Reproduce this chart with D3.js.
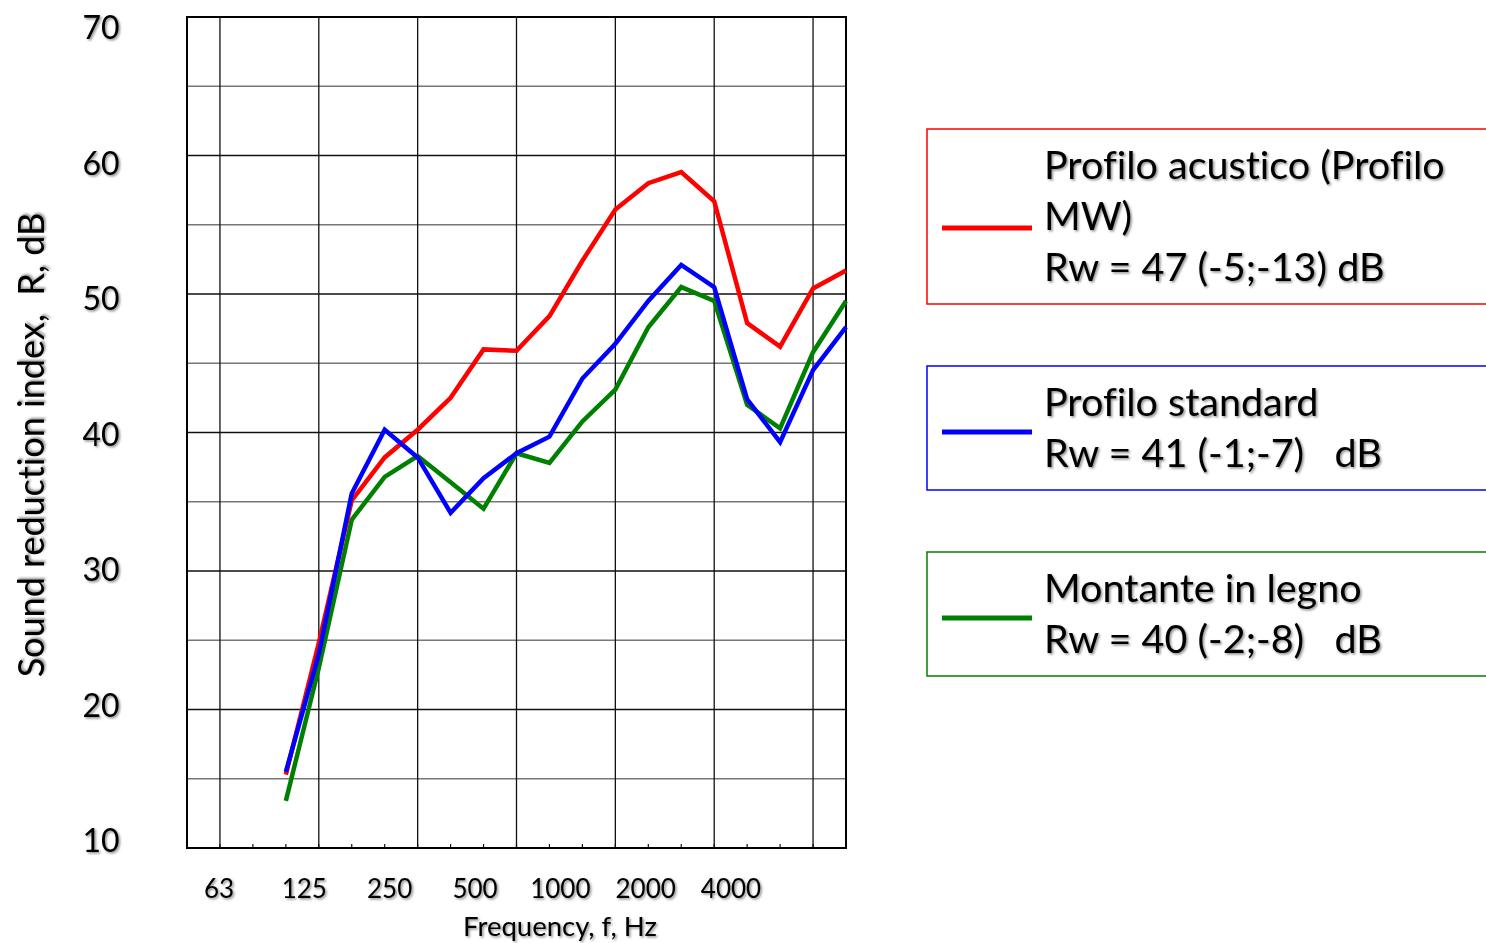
<!DOCTYPE html>
<html>
<head>
<meta charset="utf-8">
<script src="https://cdn.jsdelivr.net/npm/d3@7"></script>
<style>
  html, body { margin: 0; padding: 0; background: #fff; }
  text { font-family: Lato, "Open Sans", sans-serif; fill: #000; white-space: pre; font-variant-ligatures: none; }
</style>
</head>
<body>
<svg id="chart" width="1486" height="943"></svg>
<script>
// third-octave bands on the x axis
var bands = ["50", "63", "80", "100", "125", "160", "200", "250", "315", "400",
             "500", "630", "800", "1000", "1250", "1600", "2000", "2500", "3150", "4000", "5000"];
var dataBands = bands.slice(3);
var octaveBands = ["63", "125", "250", "500", "1000", "2000", "4000"];
var xTickLabels = ["63", "125", "250", "500", "1000", "2000", "4000"];
var yTickLabels = [70, 60, 50, 40, 30, 20, 10];

var redValues   = [15.3, 24.8, 35.1, 38.2, 40.2, 42.5, 46.0, 45.9, 48.4, 52.4, 56.1, 58.0, 58.8, 56.7, 47.9, 46.2, 50.4, 51.7];
var blueValues  = [15.5, 24.0, 35.6, 40.2, 38.2, 34.2, 36.7, 38.5, 39.7, 43.9, 46.4, 49.5, 52.1, 50.5, 42.4, 39.3, 44.5, 47.6];
var greenValues = [13.4, 23.0, 33.7, 36.8, 38.3, 36.4, 34.5, 38.5, 37.8, 40.8, 43.1, 47.6, 50.5, 49.5, 42.0, 40.3, 45.8, 49.5];

var seriesColors = ["#ff0000", "#0000ff", "#008000"];
var legendLines = [
    ["Profilo acustico (Profilo", "MW)", "Rw = 47 (-5;-13) dB"],
    ["Profilo standard", "Rw = 41 (-1;-7)   dB"],
    ["Montante in legno", "Rw = 40 (-2;-8)   dB"]
];

function drawChart() {
    var svg = d3.select("#chart");

    var plotLeft = 187, plotRight = 846, plotTop = 17, plotBottom = 848;

    var x = d3.scalePoint().domain(bands).range([plotLeft, plotRight]);
    var y = d3.scaleLinear().domain([10, 70]).range([plotBottom, plotTop]);

    // labels in the original sit a bit off the grid
    var xLabel = d3.scalePoint().domain(xTickLabels).range([219, 731]);
    var yLabel = d3.scaleLinear().domain([70, 10]).range([28, 841]);

    var shadow = svg.append("defs")
        .append("filter")
        .attr("id", "shadow")
        .attr("x", "-10%").attr("y", "-20%")
        .attr("width", "130%").attr("height", "150%");
    shadow.append("feDropShadow")
        .attr("dx", 1.5).attr("dy", 1.5)
        .attr("stdDeviation", 1.2)
        .attr("flood-color", "#000")
        .attr("flood-opacity", 0.45);

    var grid = svg.append("g").classed("grid", true);

    grid.selectAll(".hgrid")
        .data(d3.range(15, 70, 5))
        .enter()
        .append("line")
        .attr("x1", plotLeft).attr("x2", plotRight)
        .attr("y1", d => y(d)).attr("y2", d => y(d))
        .attr("stroke", d => d % 10 === 0 ? "#111" : "#777")
        .attr("stroke-width", d => d % 10 === 0 ? 1.3 : 1.6);

    grid.selectAll(".vgrid")
        .data(octaveBands)
        .enter()
        .append("line")
        .attr("x1", d => x(d)).attr("x2", d => x(d))
        .attr("y1", plotTop).attr("y2", plotBottom)
        .attr("stroke", "#111")
        .attr("stroke-width", 1.3);

    // small band ticks along the bottom
    grid.selectAll(".minor")
        .data(bands)
        .enter()
        .append("line")
        .attr("x1", d => x(d)).attr("x2", d => x(d))
        .attr("y1", plotBottom - 4).attr("y2", plotBottom)
        .attr("stroke", "#111")
        .attr("stroke-width", 1.2);

    svg.append("rect")
        .attr("x", plotLeft).attr("y", plotTop)
        .attr("width", plotRight - plotLeft).attr("height", plotBottom - plotTop)
        .attr("fill", "none")
        .attr("stroke", "#000")
        .attr("stroke-width", 2);

    var line = d3.line()
        .x((d, i) => x(dataBands[i]))
        .y(d => y(d));

    var series = [
        { values: greenValues, color: seriesColors[2] },
        { values: redValues, color: seriesColors[0] },
        { values: blueValues, color: seriesColors[1] }
    ];

    svg.append("g")
        .selectAll("path")
        .data(series)
        .enter()
        .append("path")
        .attr("d", d => line(d.values))
        .attr("fill", "none")
        .attr("stroke", d => d.color)
        .attr("stroke-width", 4.5);

    // tick labels
    svg.append("g")
        .selectAll("text")
        .data(yTickLabels)
        .enter()
        .append("text")
        .attr("x", 101)
        .attr("y", d => yLabel(d))
        .attr("dy", "0.35em")
        .attr("text-anchor", "middle")
        .attr("font-size", 32)
        .attr("filter", "url(#shadow)")
        .text(d => d);

    svg.append("g")
        .selectAll("text")
        .data(xTickLabels)
        .enter()
        .append("text")
        .attr("x", d => xLabel(d))
        .attr("y", 898)
        .attr("text-anchor", "middle")
        .attr("font-size", 26)
        .attr("filter", "url(#shadow)")
        .text(d => d);

    svg.append("text")
        .attr("x", 560)
        .attr("y", 936)
        .attr("text-anchor", "middle")
        .attr("font-size", 27.5)
        .attr("filter", "url(#shadow)")
        .text("Frequency, f, Hz");

    svg.append("text")
        .attr("transform", "translate(44, 445) rotate(-90)")
        .attr("text-anchor", "middle")
        .attr("font-size", 36)
        .attr("filter", "url(#shadow)")
        .text("Sound reduction index,  R, dB");

    // legend boxes
    var legend = svg.append("g").classed("legend", true);
    var boxTop = 129;
    legendLines.forEach(function(lines, i) {
        var h = lines.length * 51 + 22;
        var item = legend.append("g")
            .attr("transform", "translate(927," + boxTop + ")");

        item.append("rect")
            .attr("width", 620)
            .attr("height", h)
            .attr("fill", "none")
            .attr("stroke", seriesColors[i])
            .attr("stroke-width", 1.5);

        item.append("line")
            .attr("x1", 15).attr("x2", 105)
            .attr("y1", lines.length * 33).attr("y2", lines.length * 33)
            .attr("stroke", seriesColors[i])
            .attr("stroke-width", 5);

        item.selectAll("text")
            .data(lines)
            .enter()
            .append("text")
            .attr("x", 117)
            .attr("y", (d, j) => 50 + j * 51)
            .attr("font-size", 39.5)
            .attr("filter", "url(#shadow)")
            .text(d => d);

        boxTop += h + 62;
    });
}

drawChart();
</script>
</body>
</html>
